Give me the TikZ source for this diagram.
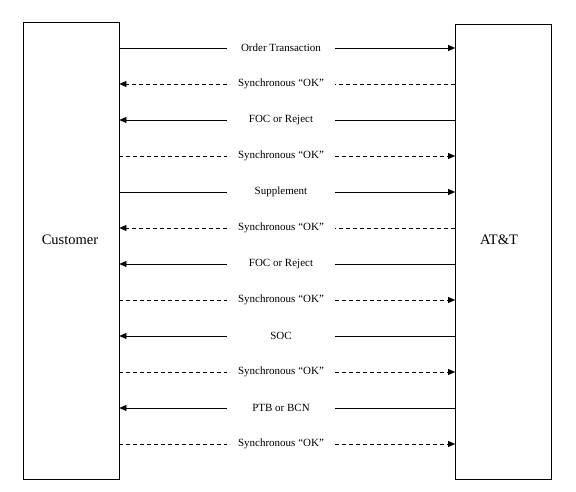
\documentclass[tikz,border=0pt]{standalone}
\usepackage{fontspec}
\setmainfont{Liberation Serif}
\usetikzlibrary{arrows.meta, positioning}

\tikzset{
    party/.style={draw, line width=0.8pt, minimum width=96pt, minimum height=457pt, inner sep=0pt},
    msg/.style={font=\fontsize{11}{12}\selectfont, minimum width=108pt, inner sep=0pt},
    solidmsg/.style={line width=0.8pt},
    okmsg/.style={line width=0.8pt, dash pattern=on 4pt off 3pt},
    tip/.style={-{Triangle[length=7pt, width=6pt]}}
}

\begin{document}
\begin{tikzpicture}[x=1pt, y=-1pt]

    % =================================================================
    % 1. KHUNG HINH VA HAI BEN GIAO DICH
    % =================================================================
    \useasboundingbox (0,0) rectangle (576,492);

    \node[party] (cust) at (71,250.5) {};
    \node[party, minimum height=455pt] (att) at (503.5,251.5) {};

    % Ten hai ben
    \node[font=\fontsize{14.5}{16}\selectfont] (custname) at (70,240) {Customer};
    \node[font=\fontsize{14.5}{16}\selectfont] (attname) at (499,240) {AT\&T};

    % =================================================================
    % 2. NHAN CAC THONG DIEP
    % =================================================================
    \node[msg] (m1)  at (281,48)  {Order Transaction};
    \node[msg] (m2)  at (281,84)  {Synchronous “OK”};
    \node[msg] (m3)  at (281,120) {FOC or Reject};
    \node[msg] (m4)  at (281,156) {Synchronous “OK”};
    \node[msg] (m5)  at (281,192) {Supplement};
    \node[msg] (m6)  at (281,228) {Synchronous “OK”};
    \node[msg] (m7)  at (281,264) {FOC or Reject};
    \node[msg] (m8)  at (281,300) {Synchronous “OK”};
    \node[msg] (m9)  at (281,336) {SOC};
    \node[msg] (m10) at (281,372) {Synchronous “OK”};
    \node[msg] (m11) at (281,408) {PTB or BCN};
    \node[msg] (m12) at (281,444) {Synchronous “OK”};

    % =================================================================
    % 3. CAC MUI TEN GIUA HAI BEN
    % =================================================================
    % Order Transaction: Customer -> AT&T
    \draw[solidmsg] (cust.east |- m1) -- (m1.west);
    \draw[solidmsg, tip] (m1.east) -- (att.west |- m1);

    % Synchronous "OK": AT&T -> Customer
    \draw[okmsg] (att.west |- m2) -- (m2.east);
    \draw[okmsg, tip] (m2.west) -- (cust.east |- m2);

    % FOC or Reject: AT&T -> Customer
    \draw[solidmsg] (att.west |- m3) -- (m3.east);
    \draw[solidmsg, tip] (m3.west) -- (cust.east |- m3);

    % Synchronous "OK": Customer -> AT&T
    \draw[okmsg] (cust.east |- m4) -- (m4.west);
    \draw[okmsg, tip] (m4.east) -- (att.west |- m4);

    % Supplement: Customer -> AT&T
    \draw[solidmsg] (cust.east |- m5) -- (m5.west);
    \draw[solidmsg, tip] (m5.east) -- (att.west |- m5);

    % Synchronous "OK": AT&T -> Customer
    \draw[okmsg] (att.west |- m6) -- (m6.east);
    \draw[okmsg, tip] (m6.west) -- (cust.east |- m6);

    % FOC or Reject: AT&T -> Customer
    \draw[solidmsg] (att.west |- m7) -- (m7.east);
    \draw[solidmsg, tip] (m7.west) -- (cust.east |- m7);

    % Synchronous "OK": Customer -> AT&T
    \draw[okmsg] (cust.east |- m8) -- (m8.west);
    \draw[okmsg, tip] (m8.east) -- (att.west |- m8);

    % SOC: AT&T -> Customer
    \draw[solidmsg] (att.west |- m9) -- (m9.east);
    \draw[solidmsg, tip] (m9.west) -- (cust.east |- m9);

    % Synchronous "OK": Customer -> AT&T
    \draw[okmsg] (cust.east |- m10) -- (m10.west);
    \draw[okmsg, tip] (m10.east) -- (att.west |- m10);

    % PTB or BCN: AT&T -> Customer
    \draw[solidmsg] (att.west |- m11) -- (m11.east);
    \draw[solidmsg, tip] (m11.west) -- (cust.east |- m11);

    % Synchronous "OK": Customer -> AT&T
    \draw[okmsg] (cust.east |- m12) -- (m12.west);
    \draw[okmsg, tip] (m12.east) -- (att.west |- m12);

\end{tikzpicture}
\end{document}
